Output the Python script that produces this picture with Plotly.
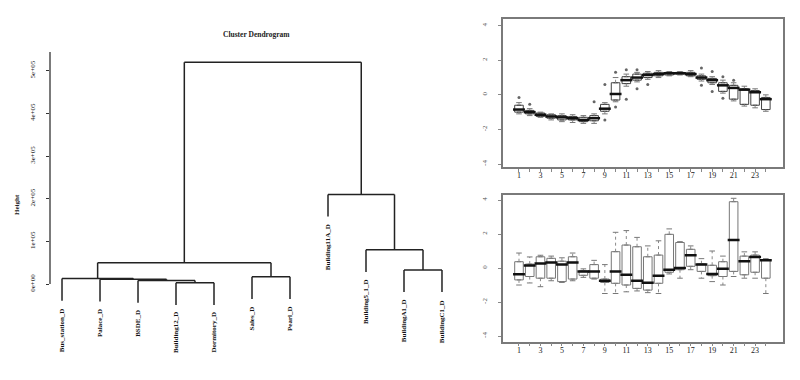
import plotly.graph_objects as go

W, H = 800, 380

# ---------------- Dendrogram data ----------------
leaf_labels = ["Bus_station_D", "Palace_D", "BSDE_D", "Building12_D", "Dormitory_D",
               "Sales_D", "Pearl_D", "Building11A_D", "Building5_1_D", "BuildingA1_D", "BuildingC1_D"]
# each merge joins two members: ("L", leaf position) or ("M", earlier merge number)
merge_left = [("L", 4), ("L", 3), ("L", 2), ("L", 1), ("L", 6), ("L", 10), ("M", 4), ("L", 9), ("L", 8), ("M", 7)]
merge_right = [("L", 5), ("M", 1), ("M", 2), ("M", 3), ("L", 7), ("L", 11), ("M", 5), ("M", 6), ("M", 8), ("M", 9)]
merge_heights = [3000, 8000, 11000, 13000, 17000, 33000, 50000, 80000, 210000, 520000]
height_ticks = [0, 100000, 200000, 300000, 400000, 500000]
height_tick_text = ["0e+00", "1e+05", "2e+05", "3e+05", "4e+05", "5e+05"]

# ---------------- Boxplot data (hours 1..24) ----------------
hours = list(range(1, 25))
hour_tick_text = [str(h) if h % 2 == 1 else "" for h in hours]
value_ticks = [-4, -2, 0, 2, 4]
value_tick_text = ["-4", "-2", "0", "2", "4"]

top_q1 = [-1.0, -1.1, -1.25, -1.35, -1.45, -1.45, -1.55, -1.5, -0.95, -0.3, 0.65, 0.85,
          1.0, 1.1, 1.15, 1.2, 1.1, 0.9, 0.7, 0.2, -0.25, -0.55, -0.6, -0.85]
top_med = [-0.85, -1.0, -1.15, -1.25, -1.3, -1.35, -1.45, -1.35, -0.8, 0.05, 0.85, 1.0,
           1.15, 1.2, 1.25, 1.25, 1.2, 1.0, 0.85, 0.55, 0.4, 0.3, 0.15, -0.25]
top_q3 = [-0.6, -0.9, -1.05, -1.15, -1.2, -1.25, -1.3, -1.2, -0.55, 0.7, 1.05, 1.2,
          1.25, 1.3, 1.3, 1.3, 1.3, 1.1, 0.95, 0.7, 0.55, 0.35, 0.25, -0.15]
top_lo = [-1.1, -1.2, -1.3, -1.45, -1.55, -1.6, -1.65, -1.65, -1.1, -0.4, 0.5, 0.75,
          0.9, 1.0, 1.1, 1.15, 1.05, 0.8, 0.6, 0.1, -0.35, -0.65, -0.75, -0.95]
top_hi = [-0.45, -0.8, -1.0, -1.1, -1.1, -1.15, -1.2, -1.1, -0.45, 1.0, 1.2, 1.3,
          1.35, 1.4, 1.35, 1.35, 1.4, 1.2, 1.05, 0.85, 0.7, 0.5, 0.35, 0.0]
top_out_x = [1, 2, 8, 9, 9, 10, 10, 11, 11, 12, 12, 13, 18, 18, 19, 19, 20, 20, 21]
top_out_y = [-0.15, -0.55, -0.4, 0.6, -1.45, 1.3, -0.7, 1.45, -0.25, 1.45, 0.35, 0.6,
             1.55, 0.55, 1.35, 0.2, 1.05, -0.2, 0.85]

bot_q1 = [-0.7, -0.5, -0.6, -0.6, -0.8, -0.65, -0.43, -0.6, -0.85, -0.9, -1.0, -1.2,
          -1.3, -0.9, -0.25, -0.1, 0.1, -0.2, -0.45, -0.5, -0.2, -0.4, -0.25, -0.6]
bot_med = [-0.37, 0.15, 0.27, 0.33, 0.2, 0.33, -0.2, -0.2, -0.75, -0.2, -0.4, -0.75,
           -0.87, -0.45, -0.1, 0.0, 0.75, 0.2, -0.35, -0.05, 1.65, 0.4, 0.65, 0.45]
bot_q3 = [0.37, 0.23, 0.66, 0.57, 0.4, 0.66, -0.16, 0.2, -0.65, 0.96, 1.35, 1.25,
          0.66, 0.76, 1.98, 1.5, 1.1, 0.25, 0.16, 0.37, 3.9, 0.7, 0.76, 0.5]
bot_lo = [-1.0, -0.88, -1.1, -0.75, -0.85, -0.75, -0.55, -0.65, -1.5, -1.5, -1.4, -1.35,
          -1.45, -1.5, -0.35, -0.6, -0.1, -0.6, -0.8, -1.0, -0.5, -0.6, -0.6, -1.5]
bot_hi = [0.88, 0.65, 0.75, 0.7, 0.6, 0.88, -0.05, 0.45, 0.2, 2.1, 2.2, 1.8,
          1.3, 1.6, 2.3, 1.55, 1.3, 0.55, 1.0, 0.7, 4.1, 0.95, 0.95, 0.55]


def px_x(p):
    return p / W


def px_y(p):
    return 1 - p / H


fig = go.Figure()

# ---------------- Dendrogram ----------------
hang = 0.1 * max(merge_heights)
mx, mh = {}, {}
seg_x, seg_y = [], []
leaf_end = {}
for j, (a, b) in enumerate(zip(merge_left, merge_right), start=1):
    h = merge_heights[j - 1]
    xs = []
    for kind, idx in (a, b):
        if kind == "L":
            cx, ch = idx, h - hang
            leaf_end[idx] = ch
        else:
            cx, ch = mx[idx], mh[idx]
        xs.append(cx)
        seg_x += [cx, cx, None]
        seg_y += [ch, h, None]
    seg_x += [xs[0], xs[1], None]
    seg_y += [h, h, None]
    mx[j] = (xs[0] + xs[1]) / 2
    mh[j] = h

fig.add_trace(go.Scatter(x=seg_x, y=seg_y, mode="lines", xaxis="x", yaxis="y",
                         line=dict(color="#222", width=1.5), hoverinfo="skip",
                         showlegend=False))

for i, lab in enumerate(leaf_labels, start=1):
    fig.add_annotation(x=i, y=leaf_end[i] - 0.13e5, xref="x", yref="y", text="<b>" + lab + "</b>",
                       textangle=-90, showarrow=False, xanchor="center", yanchor="top",
                       font=dict(family="Liberation Serif", size=7, color="#111"))

fig.add_shape(type="line", xref="x domain", yref="y", x0=0, x1=0,
              y0=height_ticks[0], y1=5.44e5, line=dict(color="#333", width=1.3))

fig.add_annotation(x=px_x(256), y=px_y(34), xref="paper", yref="paper",
                   xanchor="center", yanchor="middle",
                   text="<b>Cluster Dendrogram</b>", showarrow=False,
                   font=dict(family="Liberation Serif", size=7.5, color="#222"))
fig.add_annotation(x=px_x(17), y=px_y(205), xref="paper", yref="paper",
                   xanchor="center", yanchor="middle",
                   text="<b>Height</b>", textangle=-90, showarrow=False,
                   font=dict(family="Liberation Serif", size=7, color="#222"))


# ---------------- Box panels ----------------
def add_boxes(q1, med, q3, lo, hi, xa, ya, outx=None, outy=None, col="#6a6a6a"):
    fig.add_trace(go.Box(x=hours, q1=q1, median=med, q3=q3, lowerfence=q1, upperfence=q3,
                         xaxis=xa, yaxis=ya, width=0.8, fillcolor="white",
                         line=dict(color=col, width=1), showlegend=False,
                         hoverinfo="skip"))
    wx, wy = [], []
    for h, a, b, c, d in zip(hours, q1, q3, lo, hi):
        wx += [h, h, None, h, h, None]
        wy += [b, d, None, a, c, None]
    fig.add_trace(go.Scatter(x=wx, y=wy, mode="lines", xaxis=xa, yaxis=ya,
                             line=dict(color="#8a8a8a", width=1, dash="dot"),
                             showlegend=False, hoverinfo="skip"))
    fig.add_trace(go.Scatter(x=hours + hours, y=lo + hi, mode="markers", xaxis=xa, yaxis=ya,
                             marker=dict(symbol="line-ew", size=4,
                                         line=dict(color="#777", width=1)),
                             showlegend=False, hoverinfo="skip"))
    fig.add_trace(go.Scatter(x=hours, y=med, mode="markers", xaxis=xa, yaxis=ya,
                             marker=dict(symbol="line-ew", size=8.5,
                                         line=dict(color="#111", width=2.5)),
                             showlegend=False, hoverinfo="skip"))
    if outx:
        fig.add_trace(go.Scatter(x=outx, y=outy, mode="markers", xaxis=xa, yaxis=ya,
                                 marker=dict(symbol="circle", size=3, color="#666"),
                                 showlegend=False, hoverinfo="skip"))


add_boxes(top_q1, top_med, top_q3, top_lo, top_hi, "x2", "y2", top_out_x, top_out_y, col="#444")
add_boxes(bot_q1, bot_med, bot_q3, bot_lo, bot_hi, "x3", "y3", col="#777")

tickfont = dict(family="Liberation Serif", size=8, color="#222")
panel_x = dict(range=[-0.49, 25.6], showgrid=False, zeroline=False, showline=True,
               mirror=True, linecolor="#7a7a7a", linewidth=1.5, ticks="outside",
               ticklen=3, tickcolor="#888", tickvals=hours, ticktext=hour_tick_text,
               tickfont=tickfont, ticklabelstandoff=-3, domain=[px_x(503), px_x(783)])
panel_y = dict(showgrid=False, zeroline=False, showline=True, mirror=True,
               linecolor="#7a7a7a", linewidth=1.5, ticks="outside", ticklen=3,
               tickcolor="#888", tickvals=value_ticks, ticktext=value_tick_text,
               tickangle=-90, tickfont=dict(family="Liberation Serif", size=7, color="#555"),
               ticklabelstandoff=8)

fig.update_layout(
    width=W, height=H, margin=dict(l=0, r=0, t=0, b=0),
    paper_bgcolor="white", plot_bgcolor="white", showlegend=False,
    xaxis=dict(domain=[px_x(50), px_x(470)], range=[0.684, 11.737], visible=False),
    yaxis=dict(domain=[px_y(335.2), px_y(45)], range=[-1.2e5, 5.602e5],
               showgrid=False, zeroline=False, showline=False, ticks="outside",
               ticklen=3, tickcolor="#333", tickvals=height_ticks,
               ticktext=height_tick_text, tickangle=-90, ticklabelstandoff=8,
               tickfont=dict(family="Liberation Serif", size=7, color="#222")),
    xaxis2=dict(panel_x, anchor="y2"),
    yaxis2=dict(panel_y, domain=[px_y(167), px_y(19)], range=[-4.173, 4.387], anchor="x2"),
    xaxis3=dict(panel_x, anchor="y3"),
    yaxis3=dict(panel_y, domain=[px_y(341.7), px_y(195)], range=[-4.335, 4.294], anchor="x3"),
)

fig.write_html("out.html")
